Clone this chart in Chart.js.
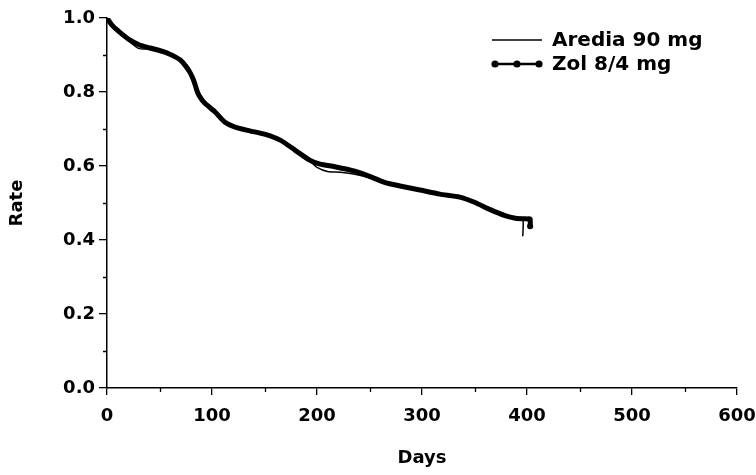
<!DOCTYPE html>
<html><head><meta charset="utf-8">
<script src="https://cdn.jsdelivr.net/npm/chart.js@4"></script>
<style>html,body{margin:0;padding:0;background:#fff}</style>
</head><body>
<canvas id="c" width="756" height="475"></canvas>
<script>
// ---- data ----
const seriesNames = ['Aredia 90 mg', 'Zol 8/4 mg'];
const xTitle = 'Days';
const yTitle = 'Rate';

const aredDays = [0, 5, 12, 22, 30, 41, 55, 65, 70, 75, 79, 82, 84, 86, 88, 93, 103, 112, 122, 136, 150, 165, 179, 193, 200, 210, 222, 236, 250, 265, 279, 298, 317, 336, 350, 365, 379, 389, 396, 396];
const aredRate = [1.0, 0.978, 0.958, 0.935, 0.918, 0.915, 0.905, 0.893, 0.884, 0.868, 0.852, 0.834, 0.818, 0.800, 0.788, 0.770, 0.745, 0.718, 0.704, 0.694, 0.686, 0.669, 0.642, 0.614, 0.596, 0.585, 0.583, 0.578, 0.568, 0.553, 0.545, 0.534, 0.523, 0.515, 0.505, 0.484, 0.468, 0.460, 0.457, 0.410];

const zolDays = [0, 5, 12, 22, 31, 41, 55, 65, 70, 75, 79, 82, 84, 86, 88, 93, 103, 112, 122, 136, 150, 165, 179, 193, 203, 217, 236, 250, 265, 279, 298, 317, 336, 350, 365, 379, 389, 400, 403, 403];
const zolRate = [1.0, 0.98, 0.962, 0.94, 0.927, 0.919, 0.908, 0.895, 0.886, 0.870, 0.853, 0.835, 0.819, 0.801, 0.789, 0.770, 0.746, 0.719, 0.705, 0.695, 0.686, 0.670, 0.643, 0.616, 0.605, 0.598, 0.586, 0.572, 0.555, 0.546, 0.535, 0.524, 0.516, 0.502, 0.482, 0.466, 0.459, 0.457, 0.457, 0.437];

const xTickValues = [0, 100, 200, 300, 400, 500, 600];
const xMinorTicks = [50, 150, 250, 350, 450, 550];
const yTickValues = [0.0, 0.2, 0.4, 0.6, 0.8, 1.0];
const yMinorTicks = [0.1, 0.3, 0.5, 0.7, 0.9];

// ---- chart ----
const FONT = 'DejaVu Sans';
const toPts = (xs, ys) => xs.map((d, i) => ({x: d, y: ys[i]}));

const minorTicks = {
  id: 'minorTicks',
  afterDraw(chart) {
    const {ctx, scales: {x, y}} = chart;
    ctx.save();
    ctx.strokeStyle = '#000';
    ctx.lineWidth = 1.3;
    ctx.beginPath();
    yMinorTicks.forEach(v => {
      const py = Math.round(y.getPixelForValue(v)) + 0.5;
      ctx.moveTo(x.left - 4, py); ctx.lineTo(x.left, py);
    });
    xMinorTicks.forEach(v => {
      const px = Math.round(x.getPixelForValue(v)) + 0.5;
      ctx.moveTo(px, y.bottom); ctx.lineTo(px, y.bottom + 4);
    });
    ctx.stroke();
    ctx.restore();
  }
};

const customLegend = {
  id: 'customLegend',
  afterDraw(chart) {
    const {ctx} = chart;
    const x0 = 492, x1 = 542, tx = 552;
    const rows = [40, 64];
    ctx.save();
    ctx.fillStyle = '#000';
    ctx.strokeStyle = '#000';
    ctx.font = 'bold 20px "' + FONT + '"';
    ctx.textBaseline = 'middle';
    ctx.textAlign = 'left';
    chart.data.datasets.forEach((ds, i) => {
      const yy = rows[i];
      ctx.lineWidth = i === 0 ? 1.5 : 2.5;
      ctx.beginPath(); ctx.moveTo(x0, yy); ctx.lineTo(x1, yy); ctx.stroke();
      if (i === 1) {
        [x0 + 3, (x0 + x1) / 2, x1 - 3].forEach(cx => {
          ctx.beginPath(); ctx.arc(cx, yy, 3.6, 0, Math.PI * 2); ctx.fill();
        });
      }
      ctx.fillText(ds.label, tx, yy + 1);
    });
    ctx.restore();
  }
};

const tickFont = {family: FONT, weight: 'bold', size: 18};

new Chart(document.getElementById('c'), {
  type: 'scatter',
  data: {
    datasets: [
      {label: seriesNames[0], data: toPts(aredDays, aredRate), showLine: true,
       borderColor: '#000', borderWidth: 1.5, pointRadius: 0, tension: 0.2},
      {label: seriesNames[1], data: toPts(zolDays, zolRate), showLine: true,
       borderColor: '#000', backgroundColor: '#000', borderWidth: 5, tension: 0.2,
       borderJoinStyle: 'round', borderCapStyle: 'round',
       pointRadius: c => c.dataIndex === zolDays.length - 1 ? 3 : 0,
       pointBackgroundColor: '#000', pointBorderWidth: 0}
    ]
  },
  options: {
    responsive: false,
    animation: false,
    layout: {padding: {top: 18, right: 19, left: 0, bottom: 0}},
    plugins: {legend: {display: false}, tooltip: {enabled: false}},
    scales: {
      x: {
        type: 'linear', min: 0, max: 600,
        afterBuildTicks: s => { s.ticks = xTickValues.map(v => ({value: v})); },
        afterFit: s => { s.height = 87; s.paddingLeft = 0; s.paddingRight = 0; },
        grid: {drawOnChartArea: false, color: '#000', tickLength: 7, lineWidth: 1.3},
        border: {color: '#000', width: 1.5},
        ticks: {color: '#000', font: tickFont, padding: 11, maxRotation: 0,
                callback: v => String(v)},
        title: {display: true, text: xTitle, color: '#000', font: tickFont,
                padding: {top: 0, bottom: 6}}
      },
      y: {
        type: 'linear', min: 0, max: 1,
        afterBuildTicks: s => { s.ticks = yTickValues.map(v => ({value: v})); },
        afterFit: s => { s.width = 107; s.paddingTop = 0; s.paddingBottom = 0; },
        grid: {drawOnChartArea: false, color: '#000', tickLength: 8, lineWidth: 1.3},
        border: {color: '#000', width: 1.5},
        ticks: {color: '#000', font: tickFont, padding: 4,
                callback: v => Number(v).toFixed(1)},
        title: {display: true, text: yTitle, color: '#000', font: tickFont,
                padding: {top: 7, bottom: 0}}
      }
    }
  },
  plugins: [minorTicks, customLegend]
});
</script>
</body></html>
